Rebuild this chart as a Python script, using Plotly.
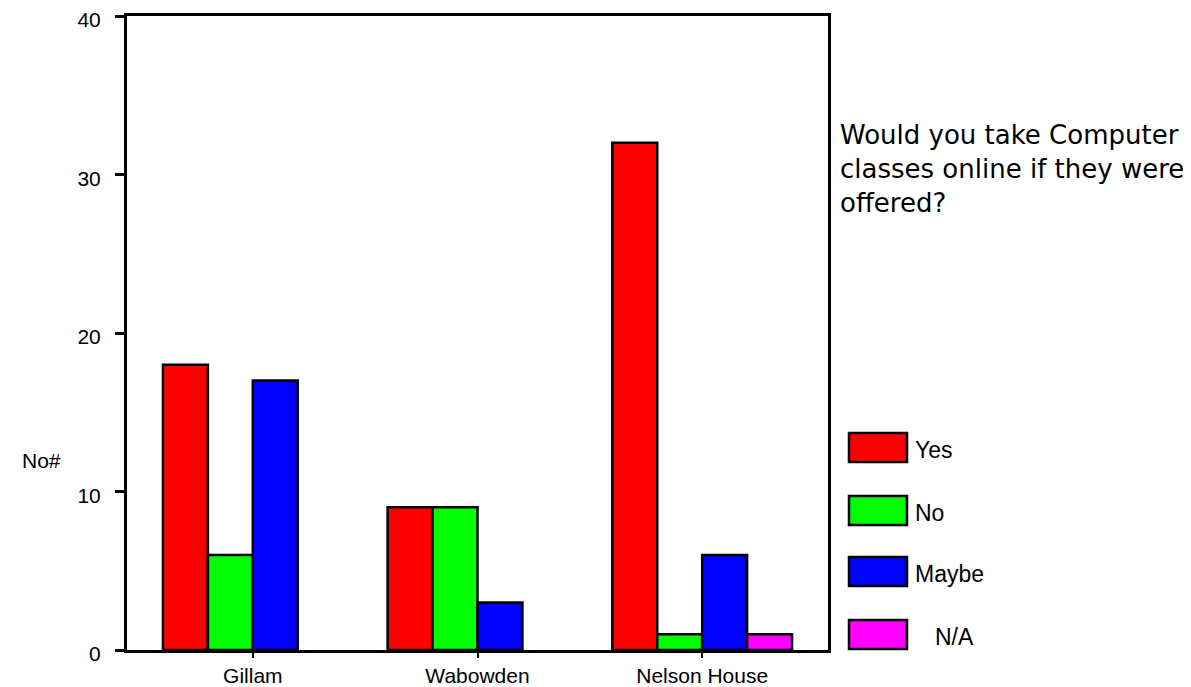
import plotly.graph_objects as go

# ---- data ----
categories = ["Gillam", "Wabowden", "Nelson House"]
series_names = ["Yes", "No", "Maybe", "N/A"]
yes_vals = [18, 9, 32]
no_vals = [6, 9, 1]
maybe_vals = [17, 3, 6]
na_vals = [0, 0, 1]
y_ticks = [0, 10, 20, 30, 40]
colors = ["#FF0000", "#00FF00", "#0000FF", "#FF00FF"]
title_text = "Would you take Computer<br>classes online if they were<br>offered?"

OFF = 8  # page body margin
W, H = 1191 - OFF, 687 - OFF
L, R, T, B = 127, 828, 16, 650  # plot area box in page pixels


def px(x):
    return (x - L) / (R - L)


def py(y):
    return (B - y) / (B - T)


fig = go.Figure()
for name, vals, col in zip(series_names, [yes_vals, no_vals, maybe_vals, na_vals], colors):
    fig.add_trace(go.Bar(
        x=categories, y=vals, name=name,
        marker=dict(color=col,
                    line=dict(color="black", width=[0 if v == 0 else 2.5 for v in vals])),
        showlegend=False,
    ))

font_main = "Liberation Sans, Arial, sans-serif"

fig.update_layout(
    width=W, height=H,
    margin=dict(l=L - OFF, r=1191 - R, t=T - OFF, b=687 - B, autoexpand=False),
    paper_bgcolor="white", plot_bgcolor="white",
    barmode="group", bargap=0.2, bargroupgap=0,
    font=dict(family=font_main, size=22, color="black"),
    xaxis=dict(
        range=[-0.56, 2.56], showline=True, linecolor="black", linewidth=3,
        mirror=True, ticks="outside", ticklen=5, tickwidth=2, tickcolor="black",
        showgrid=False, zeroline=False, tickfont=dict(size=21), automargin=False,
        ticklabeloverflow="allow",
    ),
    yaxis=dict(
        range=[0, 40], tickvals=y_ticks, showline=True, linecolor="black",
        linewidth=3, mirror=True, ticks="outside", ticklen=9, tickwidth=3,
        tickcolor="black", showgrid=False, zeroline=False,
        tickfont=dict(size=21), ticklabelstandoff=10, ticklabelshift=4,
        automargin=False, ticklabeloverflow="allow",
    ),
)

# y-axis title (horizontal)
fig.add_annotation(text="No#", xref="paper", yref="paper", x=px(41), y=py(460),
                   xanchor="center", yanchor="middle", showarrow=False,
                   font=dict(size=21))

# side title
fig.add_annotation(text=title_text, xref="paper", yref="paper", x=px(838), y=py(169),
                   xanchor="left", yanchor="middle", align="left", showarrow=False,
                   font=dict(family="DejaVu Sans, sans-serif", size=26))

# custom legend
box_tops = [433, 496, 557, 620]
label_x = [913, 913, 913, 933]
for name, col, top, lx in zip(series_names, colors, box_tops, label_x):
    fig.add_shape(type="rect", xref="paper", yref="paper",
                  x0=px(849), x1=px(907), y0=py(top + 29), y1=py(top),
                  fillcolor=col, line=dict(color="black", width=2.5))
    fig.add_annotation(text=name, xref="paper", yref="paper", x=px(lx), y=py(top + 17),
                       xanchor="left", yanchor="middle", showarrow=False,
                       font=dict(size=23))

fig.write_html("out.html")
